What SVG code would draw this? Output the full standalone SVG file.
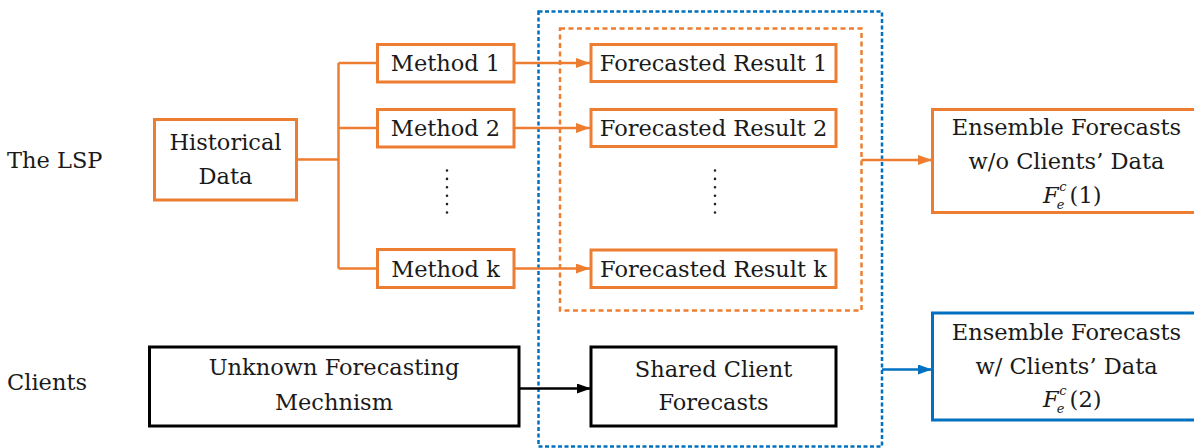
<svg xmlns="http://www.w3.org/2000/svg" width="1194" height="448" viewBox="0 0 1194 448">
<style>
text{font-family:'DejaVu Serif',serif;font-size:22.5px;fill:#1a1a1a}
.c{text-anchor:middle}
.ob{fill:#fff;stroke:#ED7D31;stroke-width:3}
.bb{fill:#fff;stroke:#000;stroke-width:3}
.lb{fill:#fff;stroke:#0070C0;stroke-width:3}
.ol{fill:none;stroke:#ED7D31;stroke-width:2.5}
.kl{fill:none;stroke:#000;stroke-width:2.5}
.bl{fill:none;stroke:#0070C0;stroke-width:2.5}
.dots{fill:none;stroke:#222;stroke-width:2.6;stroke-linecap:round;stroke-dasharray:0 8.4}
.it{font-style:italic}
.sm{font-size:13px;font-style:italic}
</style>
<defs>
<marker id="ao" markerWidth="14" markerHeight="10" refX="14" refY="5" orient="auto" markerUnits="userSpaceOnUse"><path d="M0,0 L14,5 L0,10 z" fill="#ED7D31"/></marker>
<marker id="ak" markerWidth="14" markerHeight="10" refX="14" refY="5" orient="auto" markerUnits="userSpaceOnUse"><path d="M0,0 L14,5 L0,10 z" fill="#000"/></marker>
<marker id="ab" markerWidth="14" markerHeight="10" refX="14" refY="5" orient="auto" markerUnits="userSpaceOnUse"><path d="M0,0 L14,5 L0,10 z" fill="#0070C0"/></marker>
</defs>
<rect width="1194" height="448" fill="#fff"/>

<g id="labels">
<text x="7" y="168">The LSP</text>
<text x="7" y="390">Clients</text>
</g>

<g id="containers">
<rect id="lsp-results" x="560" y="28.5" width="301.5" height="282" fill="none" stroke="#ED7D31" stroke-width="2.5" stroke-dasharray="5,3.5"/>
<rect id="shared-region" x="538.5" y="11.5" width="343.5" height="435" fill="none" stroke="#0070C0" stroke-width="2.5" stroke-dasharray="4,2.5"/>
</g>

<g id="connectors">
<path class="ol" d="M297,159.5 H338.5 M338.5,63 V268.5 M338.5,63 H377.5 M338.5,128 H377.5 M338.5,268.5 H377.5"/>
<line class="ol" x1="514" y1="63" x2="590" y2="63" marker-end="url(#ao)"/>
<line class="ol" x1="514" y1="128" x2="590" y2="128" marker-end="url(#ao)"/>
<line class="ol" x1="514" y1="268.5" x2="590" y2="268.5" marker-end="url(#ao)"/>
<line class="ol" x1="861.5" y1="160" x2="932" y2="160" marker-end="url(#ao)"/>
<line class="kl" x1="519" y1="388.5" x2="591" y2="388.5" marker-end="url(#ak)"/>
<line class="bl" x1="882" y1="369.5" x2="932" y2="369.5" marker-end="url(#ab)"/>
</g>

<g id="historical">
<rect class="ob" x="154.5" y="119.5" width="142" height="80.5"/>
<text class="c" x="225.5" y="150">Historical</text>
<text class="c" x="225.5" y="184">Data</text>
</g>

<g id="method1"><rect class="ob" x="377.5" y="44.5" width="136.5" height="37.5"/><text class="c" x="445.5" y="71">Method 1</text></g>
<g id="method2"><rect class="ob" x="377.5" y="109.5" width="136.5" height="37.5"/><text class="c" x="445.5" y="136">Method 2</text></g>
<g id="method-dots"><line class="dots" x1="447" y1="170.5" x2="447" y2="212.5"/></g>
<g id="methodk"><rect class="ob" x="377.5" y="249.5" width="136.5" height="38"/><text class="c" x="445.5" y="276.5">Method k</text></g>

<g id="result1"><rect class="ob" x="591" y="44.5" width="245" height="37"/><text class="c" x="713.5" y="71">Forecasted Result 1</text></g>
<g id="result2"><rect class="ob" x="591" y="109.5" width="245" height="37"/><text class="c" x="713.5" y="136">Forecasted Result 2</text></g>
<g id="result-dots"><line class="dots" x1="715" y1="170.5" x2="715" y2="212.5"/></g>
<g id="resultk"><rect class="ob" x="591" y="250" width="245" height="37.5"/><text class="c" x="713.5" y="277">Forecasted Result k</text></g>

<g id="unknown">
<rect class="bb" x="149.5" y="347" width="369.5" height="79"/>
<text class="c" x="334" y="375">Unknown Forecasting</text>
<text class="c" x="334" y="410">Mechnism</text>
</g>

<g id="shared">
<rect class="bb" x="591" y="347" width="245" height="79"/>
<text class="c" x="713.5" y="377">Shared Client</text>
<text class="c" x="713.5" y="410">Forecasts</text>
</g>

<g id="ensemble1">
<rect class="ob" x="932.5" y="109.5" width="300" height="103"/>
<text class="c" x="1066.5" y="135">Ensemble Forecasts</text>
<text class="c" x="1066.5" y="169">w/o Clients’ Data</text>
<text x="1043" y="203"><tspan class="it">F</tspan><tspan class="sm" dx="-2" dy="6">e</tspan><tspan class="sm" dx="-5" dy="-18">c</tspan><tspan dx="3" dy="12">(1)</tspan></text>
</g>

<g id="ensemble2">
<rect class="lb" x="932.5" y="313" width="300" height="107"/>
<text class="c" x="1066.5" y="340">Ensemble Forecasts</text>
<text class="c" x="1066.5" y="373.5">w/ Clients’ Data</text>
<text x="1043" y="407"><tspan class="it">F</tspan><tspan class="sm" dx="-2" dy="6">e</tspan><tspan class="sm" dx="-5" dy="-18">c</tspan><tspan dx="3" dy="12">(2)</tspan></text>
</g>
</svg>
